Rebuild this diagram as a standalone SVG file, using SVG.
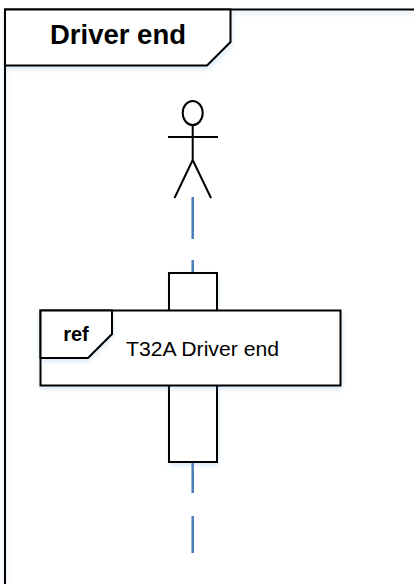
<svg xmlns="http://www.w3.org/2000/svg" width="414" height="584" viewBox="0 0 414 584">
<defs>
<filter id="sh" x="-10%" y="-10%" width="120%" height="125%"><feGaussianBlur stdDeviation="2.500"/></filter>
</defs>
<style>
.l{fill:none;stroke:#000;stroke-width:2}
.b{fill:#fff;stroke:#000;stroke-width:2}
.sh{fill:#5b9bd5;opacity:.25;filter:url(#sh)}
.t{font-family:"Liberation Sans",Arial,sans-serif;fill:#000}
.life{stroke:#4a7ebb;stroke-width:2.500;fill:none}
</style>
<rect width="414" height="584" fill="#fff"/>
<g id="frame">
<path class="sh" d="M5 12H414M5 12V584" style="fill:none;stroke:#5b9bd5;stroke-width:2"/>
<path class="l" d="M5 584V9.500H414"/>
<path class="sh" d="M5 10H231V42L207 66H5Z" transform="translate(1,3)"/>
<path class="b" d="M5 9.500H230.500V42L207 65.500H5Z"/>
<text class="t" x="118" y="43.500" font-size="27" font-weight="700" text-anchor="middle" textLength="136" lengthAdjust="spacingAndGlyphs">Driver end</text>
</g>
<g id="connectors">
<path class="life" d="M192.700 197V239M192.700 260V272M192.700 462V493M192.700 516V553"/>
</g>
<g id="actor">
<ellipse class="l" cx="192.700" cy="113" rx="10" ry="12"/>
<path class="l" d="M192.700 125V160M168 137H218M192.700 160L174.500 198M192.700 160L211 198"/>
</g>
<g id="activation">
<rect class="sh" x="169" y="275" width="49" height="190"/>
<rect class="b" x="169" y="273" width="48" height="189"/>
</g>
<g id="ref">
<rect class="sh" x="40" y="313" width="302" height="76"/>
<rect class="b" x="40.500" y="310.500" width="300" height="75"/>
<path class="sh" d="M40 311H112V334L88 358H40Z" transform="translate(1,3)"/>
<path class="b" d="M40.500 310.500H112V334L88 358H40.500Z"/>
<text class="t" x="76" y="341" font-size="20" font-weight="700" text-anchor="middle">ref</text>
<text class="t" x="126" y="356" font-size="20.500" textLength="153" lengthAdjust="spacingAndGlyphs">T32A Driver end</text>
</g>
</svg>
